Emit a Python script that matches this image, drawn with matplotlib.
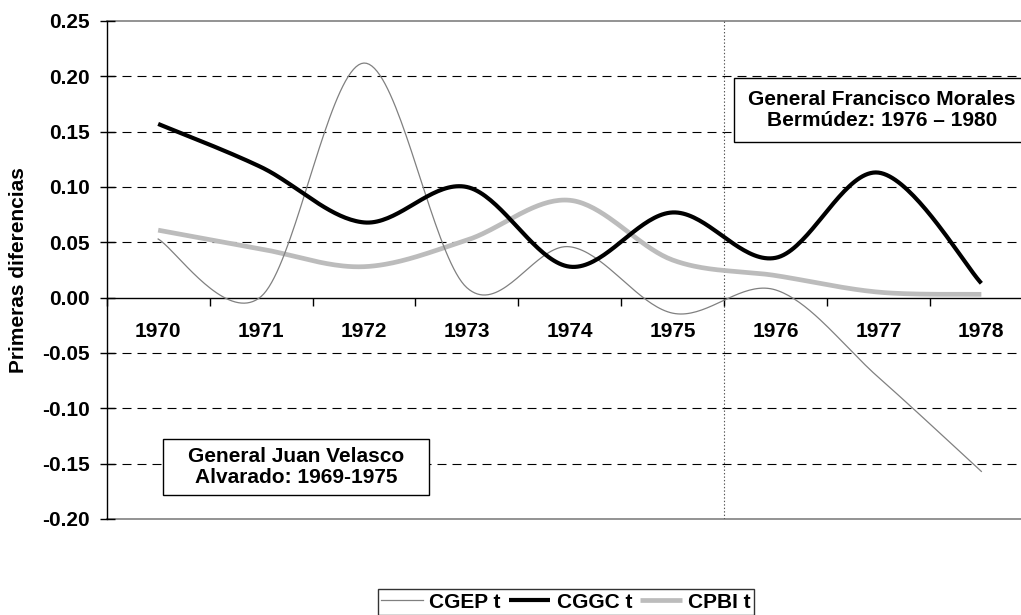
import numpy as np
import matplotlib
matplotlib.use("Agg")
import matplotlib.pyplot as plt
from matplotlib.lines import Line2D
from matplotlib.patches import Rectangle

plt.rcParams['font.family'] = ['Liberation Sans', 'DejaVu Sans']
plt.rcParams['font.weight'] = 'bold'
plt.rcParams['lines.scale_dashes'] = False

years = ['1970', '1971', '1972', '1973', '1974', '1975', '1976', '1977', '1978']
cgep = [0.053, 0.001, 0.212, 0.009, 0.046, -0.014, 0.007, -0.072, -0.157]
cggc = [0.157, 0.118, 0.068, 0.100, 0.028, 0.077, 0.036, 0.113, 0.013]
cpbi = [0.061, 0.044, 0.028, 0.052, 0.088, 0.034, 0.020, 0.005, 0.003]
series_names = ['CGEP t', 'CGGC t', 'CPBI t']
yticks = [-0.20, -0.15, -0.10, -0.05, 0.00, 0.05, 0.10, 0.15, 0.20, 0.25]
box_right = 'General Francisco Morales\nBermúdez: 1976 – 1980'
box_left = 'General Juan Velasco\nAlvarado: 1969-1975'
ylabel = 'Primeras diferencias'

FS = 15.0


def smooth(y, n=40):
    """Excel-style smoothed line (Catmull-Rom Bezier) through category points."""
    x = np.arange(len(y), dtype=float)
    y = np.asarray(y, dtype=float)
    P = np.column_stack([x, y])
    out = []
    for i in range(len(P) - 1):
        p0 = P[i - 1] if i > 0 else P[i]
        p1 = P[i]
        p2 = P[i + 1]
        p3 = P[i + 2] if i + 2 < len(P) else P[i + 1]
        c1 = p1 + (p2 - p0) / 6.0
        c2 = p2 - (p3 - p1) / 6.0
        t = np.linspace(0, 1, n)[:, None]
        seg = ((1 - t) ** 3) * p1 + 3 * ((1 - t) ** 2) * t * c1 + 3 * (1 - t) * t ** 2 * c2 + t ** 3 * p2
        if i > 0:
            seg = seg[1:]
        out.append(seg)
    out = np.vstack(out)
    return out[:, 0], out[:, 1]


W, H = 1021, 615
fig = plt.figure(figsize=(W / 100, H / 100), dpi=100)
fig.patch.set_facecolor('white')


def fx(px):
    return px / W


def fy(py):
    return 1 - py / H


left_px, top_px, bot_px, cat_px = 106.7, 21.0, 519.0, 102.9
ax = fig.add_axes([left_px / W, (H - bot_px) / H, 9 * cat_px / W, (bot_px - top_px) / H])
ax.set_xlim(-0.5, len(years) - 0.5)
ax.set_ylim(-0.20, 0.25)

# gridlines
for v in yticks:
    if -0.199 < v < 0.249 and abs(v) > 1e-9:
        ax.axhline(v, color='black', lw=0.8, dashes=(9 * 0.72, 6 * 0.72), zorder=1)
ax.axhline(0.25, color='#8a8a8a', lw=1.3, clip_on=False, zorder=1)
ax.axhline(-0.20, color='#8a8a8a', lw=1.3, clip_on=False, zorder=1)

# vertical separator between the two governments
ax.axvline(5.5, color='#555555', lw=0.8, ls=(0, (1, 1.5)), zorder=1)

# series
xs, ys = smooth(cpbi)
ax.plot(xs, ys, color='#bcbcbc', lw=3.4, solid_capstyle='butt', zorder=3)
xs, ys = smooth(cgep)
ax.plot(xs, ys, color='#808080', lw=0.9, zorder=4)
xs, ys = smooth(cggc)
ax.plot(xs, ys, color='black', lw=3.0, solid_capstyle='butt', zorder=5)

# spines
for s in ['top', 'right']:
    ax.spines[s].set_visible(False)
ax.spines['left'].set_color('black')
ax.spines['left'].set_linewidth(1.0)
ax.spines['bottom'].set_position(('data', 0))
ax.spines['bottom'].set_color('black')
ax.spines['bottom'].set_linewidth(1.0)

# y ticks
ax.set_yticks(yticks)
ax.set_yticklabels([f'{v:.2f}' for v in yticks], fontsize=FS, fontweight='bold')
ax.tick_params(axis='y', direction='inout', length=10.8, width=1.0, pad=7.0, color='black')

# x ticks: boundaries as major ticks, labels on minor ticks
major = np.arange(-0.5, len(years), 1.0)
ax.set_xticks(major)
ax.set_xticklabels([''] * len(major))
ax.set_xticks(np.arange(len(years)), minor=True)
ax.set_xticklabels(years, minor=True, fontsize=FS, fontweight='bold')
ax.tick_params(axis='x', which='major', direction='out', length=5.8, width=1.0, color='black')
ax.tick_params(axis='x', which='minor', length=0, pad=17.5)

fig.text(fx(19), fy(270), ylabel, rotation=90, ha='center', va='center',
         fontsize=FS, fontweight='bold')

# annotation boxes (figure pixel layout)
fig.patches.append(Rectangle((fx(734), fy(142)), fx(1031) - fx(734), fy(78) - fy(142),
                             transform=fig.transFigure, facecolor='white', edgecolor='black',
                             lw=1.0, zorder=6))
fig.text(fx(882), fy(110), box_right, ha='center', va='center', fontsize=FS,
         fontweight='bold', linespacing=1.1, zorder=7)
fig.patches.append(Rectangle((fx(163), fy(495)), fx(429) - fx(163), fy(439) - fy(495),
                             transform=fig.transFigure, facecolor='white', edgecolor='black',
                             lw=1.0, zorder=6))
fig.text(fx(296), fy(467), box_left, ha='center', va='center', fontsize=FS,
         fontweight='bold', linespacing=1.1, zorder=7)

# legend
handles = [Line2D([], [], color='#808080', lw=0.9),
           Line2D([], [], color='black', lw=3.0, solid_capstyle='butt'),
           Line2D([], [], color='#bcbcbc', lw=3.4, solid_capstyle='butt')]
leg = fig.legend(handles, series_names, loc='center', bbox_to_anchor=(fx(566), fy(602)),
                 ncol=3, frameon=True, fancybox=False, edgecolor='black',
                 prop={'size': FS, 'weight': 'bold'}, handlelength=2.0, handletextpad=0.3,
                 columnspacing=0.4, borderpad=0.15, borderaxespad=0.0)
leg.get_frame().set_linewidth(1.0)

fig.savefig('out.png', dpi=100, facecolor='white')
